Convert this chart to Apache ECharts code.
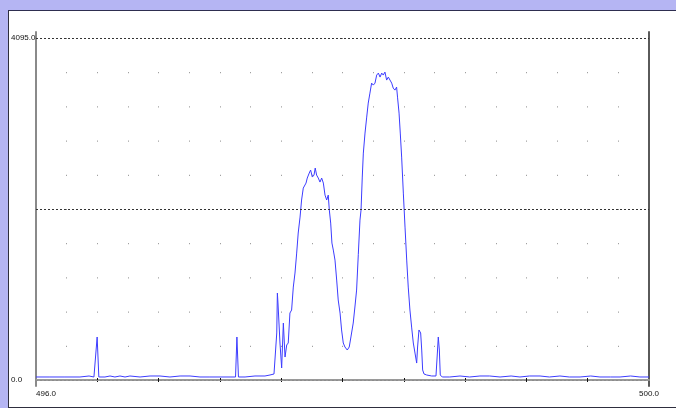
<!DOCTYPE html>
<html><head><meta charset="utf-8">
<script src="https://cdn.jsdelivr.net/npm/echarts@6/dist/echarts.min.js"></script>
<style>
html,body{margin:0;padding:0;width:676px;height:408px;overflow:hidden;background:#b5b5f3;}
#panel{position:absolute;left:8px;top:10px;width:667px;height:396px;background:#fff;border-left:1px solid #2e2e3e;border-top:1px solid #2e2e50;border-bottom:1px solid #2e2e3e;}
#c{position:absolute;left:0;top:0;width:676px;height:408px;}
</style></head>
<body><div id="panel"></div><div id="c"></div>
<script>
// Wavelength samples (x) and intensity counts (y)
var xValues = [
496.000,496.091,496.189,496.287,496.346,496.378,496.390,496.399,496.410,496.418,
496.450,496.483,496.515,496.548,496.581,496.613,496.679,496.744,496.809,496.874,
496.940,497.005,497.070,497.135,497.201,497.266,497.302,497.311,497.321,497.364,
497.429,497.494,497.527,497.553,497.566,497.571,497.575,497.579,497.592,497.603,
497.614,497.625,497.636,497.646,497.657,497.668,497.679,497.690,497.701,497.711,
497.723,497.733,497.744,497.755,497.762,497.770,497.783,497.792,497.803,497.814,
497.822,497.831,497.842,497.853,497.864,497.875,497.886,497.897,497.907,497.914,
497.923,497.931,497.940,497.951,497.962,497.972,497.984,497.994,498.005,498.016,
498.031,498.044,498.055,498.070,498.081,498.092,498.103,498.114,498.121,498.129,
498.136,498.147,498.158,498.168,498.179,498.190,498.201,498.212,498.223,498.234,
498.245,498.256,498.266,498.277,498.288,498.299,498.310,498.321,498.331,498.342,
498.353,498.359,498.369,498.377,498.386,498.397,498.408,498.419,498.429,498.440,
498.451,498.462,498.473,498.484,498.490,498.499,498.510,498.517,498.523,498.532,
498.549,498.582,498.610,498.619,498.625,498.632,498.638,498.651,498.700,498.767,
498.830,498.897,498.960,499.028,499.100,499.158,499.220,499.289,499.350,499.419,
499.480,499.550,499.620,499.680,499.750,499.811,499.880,499.941,500.000
];
var yValues = [
36,36,36,36,48,36,36,515,36,24,
36,48,36,48,36,48,36,48,48,36,
48,48,36,36,36,36,36,515,36,36,
48,48,60,72,84,563,1041,922,443,144,
682,275,419,443,802,838,1113,1281,1520,1760,
1951,2155,2298,2310,2358,2418,2478,2514,2430,2454,
2538,2454,2418,2370,2418,2358,2214,2155,2214,2035,
1879,1640,1556,1436,1197,958,802,599,443,395,
359,395,515,682,874,1077,1500,1915,2035,2430,
2717,2957,3148,3316,3435,3555,3531,3555,3651,3675,
3627,3675,3651,3687,3591,3627,3627,3555,3495,3471,
3507,3387,3196,2957,2669,2238,1831,1436,1113,838,
634,443,323,203,395,599,563,359,120,72,
60,48,48,323,515,359,60,36,36,48,
36,48,48,36,48,36,48,48,36,48,
36,36,48,36,36,36,48,36,36
];
var xLabelValues = [496, 500];
var yLabelValues = [0, 4095];
var xTickValues = [496.4, 496.8, 497.2, 497.6, 498.0, 498.4, 498.8, 499.2, 499.6];
var refLineValues = [4095, 2047.5, 0];

var seriesData = xValues.map(function (x, i) { return [x, yValues[i]]; });

var FONT = 'Liberation Sans';
var yMin = -71.8, yMax = 4166.8;

var chart = echarts.init(document.getElementById('c'), null, {renderer: 'canvas'});
chart.setOption({
  animation: false,
  backgroundColor: 'transparent',
  grid: {left: 36, top: 32, width: 613, height: 354, show: false, containLabel: false},
  xAxis: [{
    type: 'value', position: 'bottom', min: 496, max: 500, interval: 0.2,
    axisLine: {show: true, lineStyle: {color: '#5a5a5a', width: 2}},
    axisTick: {show: true, customValues: xTickValues, length: 2, lineStyle: {color: '#111', width: 1}},
    axisLabel: {show: true, customValues: xLabelValues, margin: 4, fontSize: 8, fontFamily: FONT, color: '#111',
      formatter: function (v) { return v.toFixed(1); }, alignMinLabel: 'left', alignMaxLabel: 'center'},
    splitLine: {show: false}
  }, {
    type: 'value', position: 'top', min: 496, max: 500, interval: 0.2,
    axisLine: {show: true, lineStyle: {color: '#9a9a9a', width: 2}},
    axisTick: {show: true, customValues: xTickValues, length: 2, lineStyle: {color: '#111', width: 1}},
    axisLabel: {show: false},
    splitLine: {show: false}
  }, {
    type: 'value', position: 'bottom', min: 496, max: 500, interval: 0.2,
    axisLine: {show: false}, axisTick: {show: false}, axisLabel: {show: false},
    splitLine: {show: true, showMinLine: false, showMaxLine: false,
      lineStyle: {color: '#8a8a8a', width: 1, type: [1, 33.2], dashOffset: 28.2}}
  }],
  yAxis: [{
    type: 'value', position: 'left', min: yMin, max: yMax,
    axisLine: {show: true, lineStyle: {color: '#8a8a8a', width: 2}},
    axisTick: {show: false},
    axisLabel: {show: true, customValues: yLabelValues, align: 'left', margin: 25, fontSize: 8, fontFamily: FONT, color: '#111',
      padding: [3, 0, 0, 0],
      formatter: function (v) { return v.toFixed(1); }},
    splitLine: {show: false}
  }, {
    type: 'value', position: 'right', min: yMin, max: yMax,
    axisLine: {show: true, lineStyle: {color: '#5a5a5a', width: 2}},
    axisTick: {show: false},
    axisLabel: {show: false},
    splitLine: {show: false}
  }],
  series: [{
    type: 'line',
    xAxisIndex: 0, yAxisIndex: 0,
    data: seriesData,
    showSymbol: false,
    symbol: 'none',
    lineStyle: {color: '#3c3cff', width: 1},
    z: 3,
    markLine: {
      silent: true, symbol: 'none', animation: false,
      label: {show: false},
      lineStyle: {type: [2, 2], width: 1, color: '#333'},
      data: refLineValues.map(function (v) {
        return {yAxis: v, lineStyle: {color: v === 0 ? '#8c8c8c' : '#333'}};
      })
    }
  }]
});
</script></body></html>
